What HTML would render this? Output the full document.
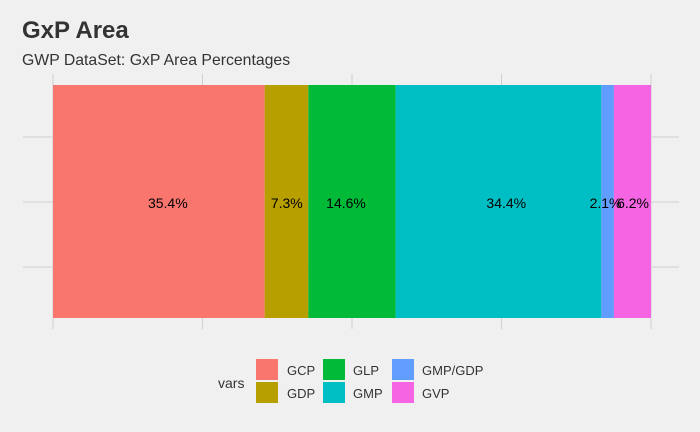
<!DOCTYPE html>
<html><head><meta charset="utf-8"><style>
body{margin:0;background:#f0f0f0;font-family:"Liberation Sans",sans-serif}
</style></head><body>
<svg width="700" height="432" style="display:block">
<rect width="700" height="432" fill="#f0f0f0"/>
<text x="22" y="38" font-size="24" font-weight="bold" fill="#333">GxP Area</text>
<text x="22" y="65" font-size="15.8" fill="#333">GWP DataSet: GxP Area Percentages</text>
<g id="grid"></g>
<g id="bars"></g>
<g id="legend">
<text x="218" y="388" font-size="14" fill="#333">vars</text>
</g>
</svg>
<script>
const categories=["GCP","GDP","GLP","GMP","GMP/GDP","GVP"];
const values=[35.4,7.3,14.6,34.4,2.1,6.2];
const labels=["35.4%","7.3%","14.6%","34.4%","2.1%","6.2%"];
const labelPos=[19.2,39.1,49.0,75.8,92.4,97.0];
const colors=["#F8766D","#B79F00","#00BA38","#00BFC4","#619CFF","#F564E3"];
const xTicks=[0,25,50,75,100];
const NS="http://www.w3.org/2000/svg";
const x0=53,x1=651,y0=85,y1=318;
const total=values.reduce((a,b)=>a+b,0);
const xs=v=>x0+(v/total)*(x1-x0);
function mk(t,a,p){const e=document.createElementNS(NS,t);for(const k in a)e.setAttribute(k,a[k]);p.appendChild(e);return e;}
const g=document.getElementById('grid');
[137,202,267].forEach(y=>{const l=mk('line',{x1:23,x2:679,y1:y,y2:y,stroke:'#d0d0d0','stroke-width':1},g);

});
xTicks.forEach(t=>{const x=x0+t/100*(x1-x0);const l=mk('line',{x1:x,x2:x,y1:74,y2:329,stroke:'#d0d0d0','stroke-width':1},g);

});
const b=document.getElementById('bars');
let cum=0;
values.forEach((v,i)=>{const xa=xs(cum),xb=xs(cum+v);
const r=mk('rect',{x:xa,y:y0,width:xb-xa,height:y1-y0,fill:colors[i]},b);


cum+=v;});
labels.forEach((lab,i)=>{const xm=x0+labelPos[i]/100*(x1-x0);
const t=mk('text',{x:xm,y:208,'font-size':14,'text-anchor':'middle',fill:'#000'},b);t.textContent=lab;

});
const lg=document.getElementById('legend');
const cols=[[256,287],[323,353],[392,422]];
categories.forEach((c,i)=>{const col=cols[Math.floor(i/2)],row=i%2;const y=359+row*23;
const r=mk('rect',{x:col[0],y:y,width:22,height:21,fill:colors[i]},lg);


const t=mk('text',{x:col[1],y:y+16,'font-size':13,fill:'#333'},lg);t.textContent=c;

});
</script>
</body></html>
